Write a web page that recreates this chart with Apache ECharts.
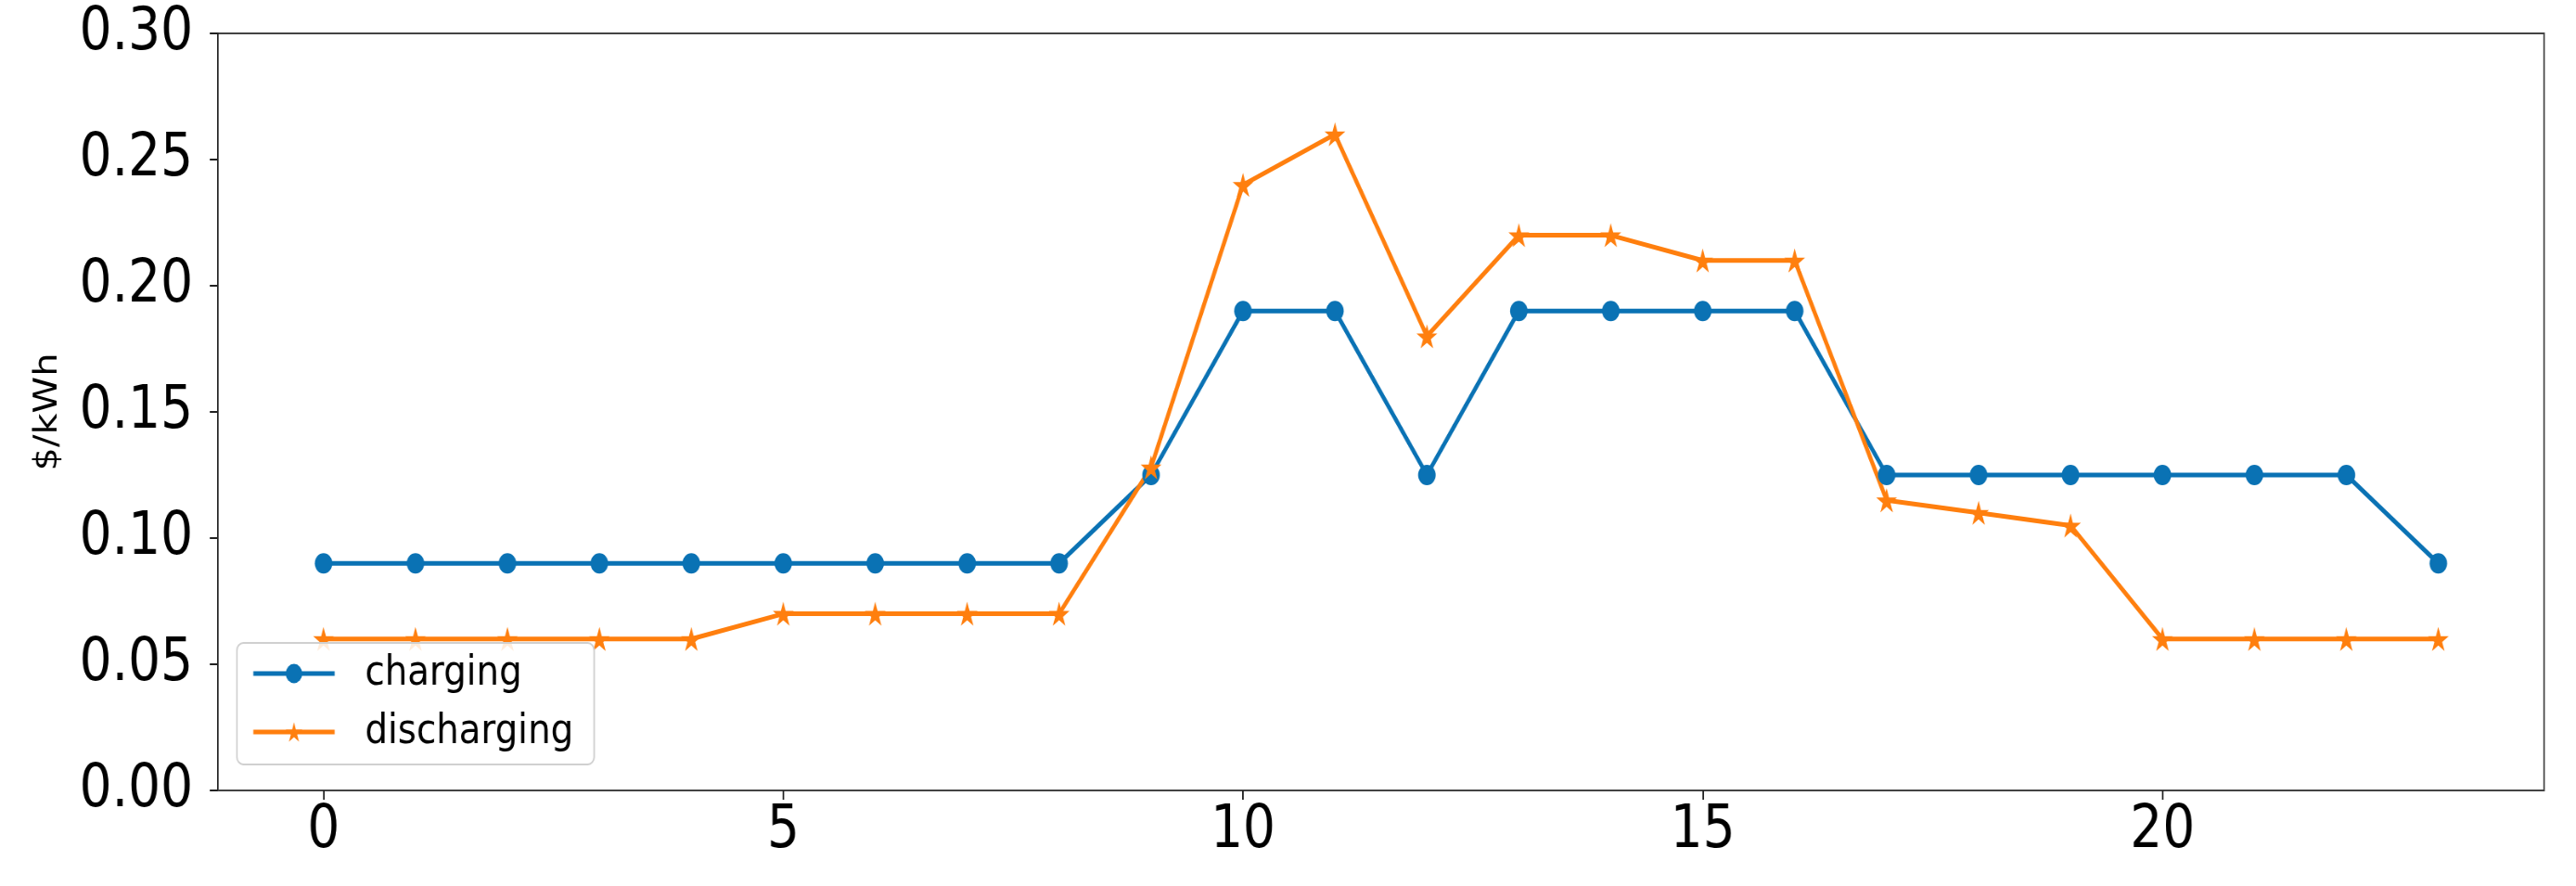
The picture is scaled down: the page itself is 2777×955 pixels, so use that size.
<!DOCTYPE html>
<html lang="en">
<head>
    <meta charset="UTF-8">
    <script src="https://cdn.jsdelivr.net/npm/echarts@6/dist/echarts.min.js"></script>
    <title>Charging / discharging price</title>
    <style>
        html, body { margin: 0; padding: 0; overflow: hidden; background: #fff; }
        /* the original figure is squeezed horizontally, so draw wider and squeeze */
        #main { width: 3229px; height: 955px; transform: scaleX(0.86); transform-origin: 0 0; }
    </style>
</head>
<body>
<div id="main"></div>

<script type="text/javascript">

// hours of the day
var hours = [0, 1, 2, 3, 4, 5, 6, 7, 8, 9, 10, 11, 12, 13, 14, 15, 16, 17, 18, 19, 20, 21, 22, 23];

// $/kWh
var charging = [0.09, 0.09, 0.09, 0.09, 0.09, 0.09, 0.09, 0.09, 0.09, 0.125, 0.19, 0.19,
                0.125, 0.19, 0.19, 0.19, 0.19, 0.125, 0.125, 0.125, 0.125, 0.125, 0.125, 0.09];
var discharging = [0.06, 0.06, 0.06, 0.06, 0.06, 0.07, 0.07, 0.07, 0.07, 0.128, 0.24, 0.26,
                   0.18, 0.22, 0.22, 0.21, 0.21, 0.115, 0.11, 0.105, 0.06, 0.06, 0.06, 0.06];

var xTicks = [0, 5, 10, 15, 20];

var font = 'DejaVu Sans';
var frameColor = '#444';
var starPath = 'path://M50,0 L61,35 L98,35 L68,57 L79,91 L50,70 L21,91 L32,57 L2,35 L39,35 Z';

function pairs(ys) {
    var out = [];
    for (var i = 0; i < hours.length; i++) {
        out.push([hours[i], ys[i]]);
    }
    return out;
}

var myChart = echarts.init(document.getElementById('main'));

var option = {
    animation: false,
    backgroundColor: '#fff',
    grid: {
        left: 273,
        right: 40,
        top: 36,
        bottom: 103,
        show: true,
        borderColor: frameColor,
        borderWidth: 2
    },
    legend: {
        orient: 'vertical',
        left: 297,
        top: 693,
        selectedMode: false,
        itemWidth: 102,
        itemHeight: 26,
        itemGap: 17,
        padding: [10, 26, 12, 18],
        backgroundColor: 'rgba(255,255,255,0.85)',
        borderColor: '#d0d0d0',
        borderWidth: 2,
        borderRadius: 8,
        lineStyle: { width: 5 },
        textStyle: {
            fontFamily: font,
            fontSize: 45,
            lineHeight: 46,
            color: '#000',
            padding: [0, 0, 0, 33]
        },
        data: ['charging', 'discharging']
    },
    xAxis: {
        type: 'value',
        min: -1.15,
        max: 24.15,
        splitLine: { show: false },
        axisLine: { show: true, onZero: false, lineStyle: { color: frameColor, width: 2 } },
        axisTick: {
            show: true,
            length: 10,
            customValues: xTicks,
            lineStyle: { color: '#222', width: 2 }
        },
        axisLabel: {
            customValues: xTicks,
            margin: 12,
            fontFamily: font,
            fontSize: 64,
            color: '#000'
        }
    },
    yAxis: {
        type: 'value',
        min: 0,
        max: 0.3,
        interval: 0.05,
        name: '$/kWh',
        nameLocation: 'middle',
        nameGap: 192,
        nameTextStyle: { fontFamily: font, fontSize: 40, color: '#000' },
        splitLine: { show: false },
        axisLine: { show: true, onZero: false, lineStyle: { color: '#222', width: 2 } },
        axisTick: { show: true, length: 10, lineStyle: { color: '#222', width: 2 } },
        axisLabel: {
            margin: 31,
            fontFamily: font,
            fontSize: 64,
            color: '#000',
            formatter: function (v) { return v.toFixed(2); }
        }
    },
    series: [
        {
            name: 'charging',
            type: 'line',
            data: pairs(charging),
            symbol: 'circle',
            symbolSize: 22,
            lineStyle: { color: '#0a72b4', width: 5 },
            itemStyle: { color: '#0a72b4' }
        },
        {
            name: 'discharging',
            type: 'line',
            data: pairs(discharging),
            symbol: starPath,
            symbolSize: 26,
            lineStyle: { color: '#ff7f0e', width: 5 },
            itemStyle: { color: '#ff7f0e' }
        }
    ]
};

myChart.setOption(option);
</script>
</body>
</html>
